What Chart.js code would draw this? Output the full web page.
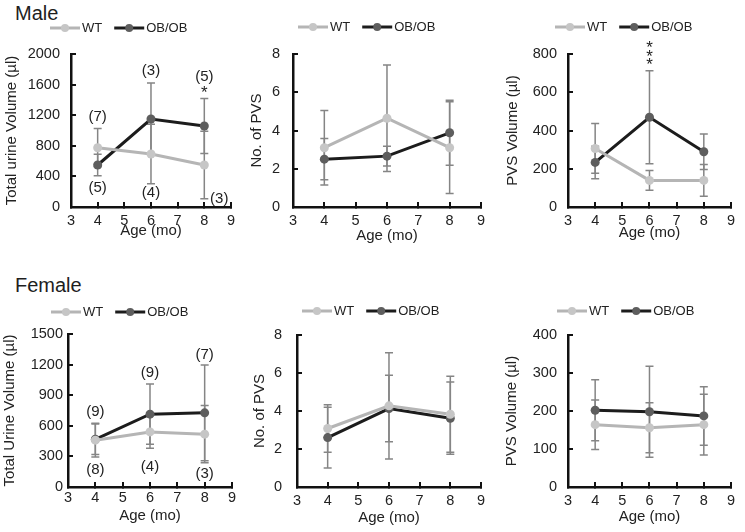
<!DOCTYPE html>
<html>
<head>
<meta charset="utf-8">
<script src="https://cdn.jsdelivr.net/npm/chart.js@4.4.0/dist/chart.umd.min.js"></script>
<style>
  html, body { margin: 0; padding: 0; background: #fff; }
  body { width: 745px; height: 532px; position: relative; overflow: hidden; font-family: "Liberation Sans", Arial, sans-serif; }
  .panel { position: absolute; }
  .sex { position: absolute; font-size: 20px; line-height: 20px; color: #1e1e1e; }
</style>
</head>
<body>
<div class="sex" style="left:15px; top:3px;">Male</div>
<div class="sex" style="left:15px; top:275px;">Female</div>
<div class="panel" style="left:0px;   top:0px;   width:245px; height:250px"><canvas id="maleUrine"></canvas></div>
<div class="panel" style="left:246px; top:0px;   width:249px; height:250px"><canvas id="malePvsCount"></canvas></div>
<div class="panel" style="left:500px; top:0px;   width:245px; height:250px"><canvas id="malePvsVolume"></canvas></div>
<div class="panel" style="left:0px;   top:260px; width:245px; height:272px"><canvas id="femaleUrine"></canvas></div>
<div class="panel" style="left:246px; top:260px; width:249px; height:272px"><canvas id="femalePvsCount"></canvas></div>
<div class="panel" style="left:500px; top:260px; width:245px; height:272px"><canvas id="femalePvsVolume"></canvas></div>
<script>
// --- data -------------------------------------------------------------
const ages = [4, 6, 8];
const xTicks = [3, 4, 5, 6, 7, 8, 9];

// Male
const maleUrineWT = [775, 693, 549];
const maleUrineWTErr = [250, 390, 440];
const maleUrineOB = [549, 1150, 1059];
const maleUrineOBErr = [140, 470, 360];
const maleUrineTicks = [0, 400, 800, 1200, 1600, 2000];
const maleUrineNotes = [
  {x: 4, y: 1176, text: '(7)'}, {x: 4, y: 248, text: '(5)'},
  {x: 6, y: 1778, text: '(3)'}, {x: 6, y: 183, text: '(4)'},
  {x: 8, y: 1699, text: '(5)'}, {x: 8, y: 1480, text: '*'},
  {x: 8.56, y: 105, text: '(3)'}
];

const malePvsWT = [3.1, 4.64, 3.1];
const malePvsWTErr = [1.95, 2.78, 2.4];
const malePvsOB = [2.5, 2.66, 3.88];
const malePvsOBErr = [1.08, 0.52, 1.7];
const malePvsTicks = [0, 2, 4, 6, 8];

const maleVolWT = [306, 139, 139];
const maleVolWTErr = [130, 52, 83];
const maleVolOB = [233, 469, 289];
const maleVolOBErr = [85, 243, 93];
const maleVolTicks = [0, 200, 400, 600, 800];
const maleVolNotes = [
  {x: 6, y: 828, text: '*'}, {x: 6, y: 783, text: '*'}, {x: 6, y: 741, text: '*'}
];

// Female
const femaleUrineWT = [459, 540, 518];
const femaleUrineWTErr = [165, 160, 280];
const femaleUrineOB = [468, 714, 727];
const femaleUrineOBErr = [150, 295, 470];
const femaleUrineTicks = [0, 300, 600, 900, 1200, 1500];
const femaleUrineNotes = [
  {x: 4, y: 733, text: '(9)'}, {x: 4, y: 164, text: '(8)'},
  {x: 6, y: 1117, text: '(9)'}, {x: 6, y: 193, text: '(4)'},
  {x: 8, y: 1293, text: '(7)'}, {x: 8, y: 125, text: '(3)'}
];

const femalePvsWT = [3.08, 4.27, 3.83];
const femalePvsWTErr = [1.25, 2.8, 2.0];
const femalePvsOB = [2.6, 4.13, 3.62];
const femalePvsOBErr = [1.6, 1.75, 1.9];
const femalePvsTicks = [0, 2, 4, 6, 8];

const femaleVolWT = [164, 156, 164];
const femaleVolWTErr = [65, 66, 80];
const femaleVolOB = [202, 198, 187];
const femaleVolOBErr = [80, 120, 77];
const femaleVolTicks = [0, 100, 200, 300, 400];

// --- styles -----------------------------------------------------------
const WT_LINE = '#b5b5b5';
const WT_DOT = '#c6c6c6';
const OB_LINE = '#1c1c1c';
const OB_DOT = '#5e5e5e';
const ERR_COLOR = '#858585';
const AXIS_COLOR = '#111';
const TEXT_COLOR = '#222';
const FONT = '"Liberation Sans", Arial, sans-serif';

Chart.defaults.font.family = FONT;
Chart.defaults.color = TEXT_COLOR;

// error bars drawn behind the lines, through the chart's scales
const errorBars = {
  id: 'errorBars',
  beforeDatasetsDraw(chart) {
    const {ctx, scales: {x, y}} = chart;
    ctx.save();
    ctx.strokeStyle = ERR_COLOR;
    ctx.lineWidth = 1.5;
    chart.data.datasets.forEach(ds => {
      ds.data.forEach((p, i) => {
        const e = ds.err[i];
        const px = x.getPixelForValue(p.x);
        const top = y.getPixelForValue(p.y + e);
        const bot = y.getPixelForValue(p.y - e);
        ctx.beginPath();
        ctx.moveTo(px, top); ctx.lineTo(px, bot);
        ctx.moveTo(px - 4, top); ctx.lineTo(px + 4, top);
        ctx.moveTo(px - 4, bot); ctx.lineTo(px + 4, bot);
        ctx.stroke();
      });
    });
    ctx.restore();
  }
};

// n-values and significance marks
const notes = {
  id: 'notes',
  afterDatasetsDraw(chart, args, opts) {
    if (!opts.items) return;
    const {ctx, scales: {x, y}} = chart;
    ctx.save();
    ctx.fillStyle = TEXT_COLOR;
    ctx.textAlign = 'center';
    ctx.textBaseline = 'middle';
    opts.items.forEach(n => {
      ctx.font = (n.text === '*' ? '17px ' : '15px ') + FONT;
      ctx.fillText(n.text, x.getPixelForValue(n.x), y.getPixelForValue(n.y));
    });
    ctx.restore();
  }
};

// legend with a line segment and marker, as in the original
const lineLegend = {
  id: 'lineLegend',
  afterDraw(chart, args, opts) {
    const {ctx} = chart;
    let x = opts.left;
    const y = opts.y;
    ctx.save();
    ctx.font = '13px ' + FONT;
    ctx.textBaseline = 'middle';
    chart.data.datasets.forEach(ds => {
      ctx.strokeStyle = ds.borderColor;
      ctx.lineWidth = ds.borderWidth;
      ctx.beginPath();
      ctx.moveTo(x, y); ctx.lineTo(x + 30, y);
      ctx.stroke();
      ctx.fillStyle = ds.pointBackgroundColor;
      ctx.beginPath();
      ctx.arc(x + 15, y, 4, 0, Math.PI * 2);
      ctx.fill();
      x += 32;
      ctx.fillStyle = TEXT_COLOR;
      ctx.fillText(ds.label, x, y + 0.5);
      x += ctx.measureText(ds.label).width + 12;
    });
    ctx.restore();
  }
};

function toPoints(values) {
  return ages.map((a, i) => ({x: a, y: values[i]}));
}

function makePanel(id, p) {
  new Chart(document.getElementById(id), {
    type: 'line',
    data: {
      datasets: [
        {
          label: 'WT', data: toPoints(p.wt), err: p.wtErr,
          borderColor: WT_LINE, borderWidth: 3,
          pointBackgroundColor: WT_DOT, pointBorderColor: WT_DOT,
          pointRadius: 4.5, pointBorderWidth: 0
        },
        {
          label: 'OB/OB', data: toPoints(p.ob), err: p.obErr,
          borderColor: OB_LINE, borderWidth: 3,
          pointBackgroundColor: OB_DOT, pointBorderColor: OB_DOT,
          pointRadius: 4.5, pointBorderWidth: 0
        }
      ]
    },
    options: {
      responsive: true,
      maintainAspectRatio: false,
      animation: false,
      layout: {autoPadding: false, padding: {top: p.top, right: p.right, bottom: 0, left: 0}},
      plugins: {
        legend: {display: false},
        tooltip: {enabled: false},
        lineLegend: {left: p.legendLeft, y: p.legendY},
        notes: {items: p.notes}
      },
      scales: {
        x: {
          type: 'linear', min: 3, max: 9,
          afterBuildTicks: s => { s.ticks = xTicks.map(v => ({value: v})); },
          afterFit: s => { s.height = p.xHeight; },
          border: {display: true, color: AXIS_COLOR, width: 2.5},
          grid: {drawOnChartArea: false, drawTicks: true, tickLength: -5, color: AXIS_COLOR, lineWidth: 2},
          ticks: {padding: p.xPad, font: {size: 14.5}, color: TEXT_COLOR, maxRotation: 0},
          title: {display: true, text: 'Age (mo)', font: {size: 15}, color: TEXT_COLOR, padding: {top: 0, bottom: p.xTitlePad}}
        },
        y: {
          type: 'linear', min: p.yTicks[0], max: p.yTicks[p.yTicks.length - 1],
          afterBuildTicks: s => { s.ticks = p.yTicks.map(v => ({value: v})); },
          afterFit: s => { s.width = p.yWidth; },
          border: {display: true, color: AXIS_COLOR, width: 2.5},
          grid: {drawOnChartArea: false, drawTicks: true, tickLength: -5, color: AXIS_COLOR, lineWidth: 2},
          ticks: {padding: p.yPad, font: {size: 14.5}, color: TEXT_COLOR, callback: v => String(v)},
          title: {display: true, text: p.yTitle, font: {size: 15}, color: TEXT_COLOR, padding: {top: p.yTitlePad, bottom: 0}}
        }
      }
    },
    plugins: [errorBars, notes, lineLegend]
  });
}

makePanel('maleUrine', {
  wt: maleUrineWT, wtErr: maleUrineWTErr, ob: maleUrineOB, obErr: maleUrineOBErr,
  yTicks: maleUrineTicks, notes: maleUrineNotes, yTitle: 'Total urine Volume (µl)',
  top: 54, right: 10, xHeight: 43, yWidth: 71,
  xPad: 10, yPad: 16, xTitlePad: 10, yTitlePad: 3, legendLeft: 50, legendY: 28
});
makePanel('malePvsCount', {
  wt: malePvsWT, wtErr: malePvsWTErr, ob: malePvsOB, obErr: malePvsOBErr,
  yTicks: malePvsTicks, notes: [], yTitle: 'No. of PVS',
  top: 54, right: 13, xHeight: 43, yWidth: 47,
  xPad: 10, yPad: 18, xTitlePad: 5, yTitlePad: 2, legendLeft: 52, legendY: 27
});
makePanel('malePvsVolume', {
  wt: maleVolWT, wtErr: maleVolWTErr, ob: maleVolOB, obErr: maleVolOBErr,
  yTicks: maleVolTicks, notes: maleVolNotes, yTitle: 'PVS Volume (µl)',
  top: 54, right: 5, xHeight: 43, yWidth: 68,
  xPad: 10, yPad: 16, xTitlePad: 8, yTitlePad: 4, legendLeft: 55, legendY: 27
});
makePanel('femaleUrine', {
  wt: femaleUrineWT, wtErr: femaleUrineWTErr, ob: femaleUrineOB, obErr: femaleUrineOBErr,
  yTicks: femaleUrineTicks, notes: femaleUrineNotes, yTitle: 'Total Urine Volume (µl)',
  top: 74, right: 13, xHeight: 45, yWidth: 68,
  xPad: 7, yPad: 10, xTitlePad: 7, yTitlePad: 1, legendLeft: 51, legendY: 52
});
makePanel('femalePvsCount', {
  wt: femalePvsWT, wtErr: femalePvsWTErr, ob: femalePvsOB, obErr: femalePvsOBErr,
  yTicks: femalePvsTicks, notes: [], yTitle: 'No. of PVS',
  top: 75, right: 11, xHeight: 45, yWidth: 51,
  xPad: 10, yPad: 20, xTitlePad: 5, yTitlePad: 5, legendLeft: 56, legendY: 51
});
makePanel('femalePvsVolume', {
  wt: femaleVolWT, wtErr: femaleVolWTErr, ob: femaleVolOB, obErr: femaleVolOBErr,
  yTicks: femaleVolTicks, notes: [], yTitle: 'PVS Volume (µl)',
  top: 75, right: 5, xHeight: 45, yWidth: 68,
  xPad: 10, yPad: 16, xTitlePad: 6, yTitlePad: 3, legendLeft: 57, legendY: 51
});
</script>
</body>
</html>
